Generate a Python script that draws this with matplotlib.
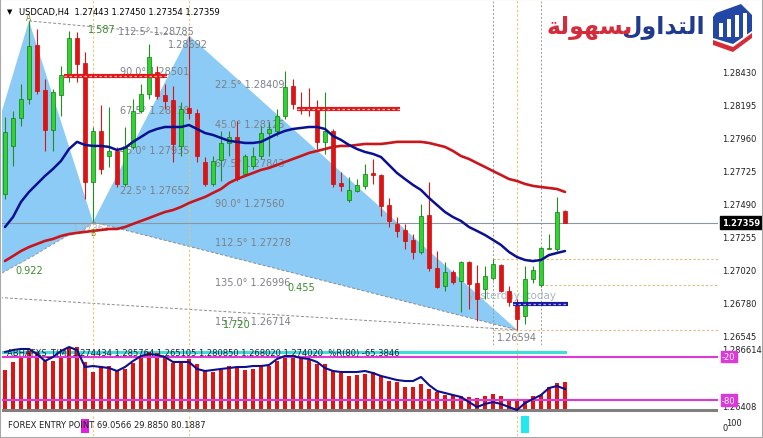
import matplotlib
matplotlib.use("Agg")
import matplotlib.pyplot as plt
import matplotlib.transforms as mtrans
from matplotlib.patches import Polygon, Rectangle
import numpy as np

# ---------------- data ----------------
header_text = "USDCAD,H4  1.27443 1.27450 1.27354 1.27359"

opens = [1.27562, 1.27905, 1.28105, 1.28240, 1.28625, 1.28304, 1.28019, 1.28268, 1.28404, 1.28675,
         1.28497, 1.27648, 1.28012, 1.27833, 1.27869, 1.27634, 1.27898, 1.28155, 1.28275, 1.28433,
         1.28268, 1.28233, 1.27905, 1.28176, 1.28140, 1.27791, 1.27634, 1.27805, 1.27926, 1.27969,
         1.27705, 1.27762, 1.27833, 1.27997, 1.28012, 1.28119, 1.28333, 1.28183, 1.28183, 1.28183,
         1.27934, 1.28012, 1.27641, 1.27520, 1.27584, 1.27620, 1.27712, 1.27698, 1.27484, 1.27349,
         1.27306, 1.27235, 1.27149, 1.27413, 1.27035, 1.26906, 1.27006, 1.26942, 1.27077, 1.26927,
         1.26885, 1.26963, 1.27056, 1.26870, 1.26792, 1.26693, 1.26956, 1.26913, 1.27170, 1.27170,
         1.27443]
highs = [1.28112, 1.28155, 1.28347, 1.28796, 1.28739, 1.28383, 1.28311, 1.28475, 1.28725, 1.28718,
         1.28576, 1.28040, 1.28197, 1.28183, 1.27898, 1.28040, 1.28240, 1.28347, 1.28632, 1.28475,
         1.28347, 1.28333, 1.28219, 1.28692, 1.28169, 1.27826, 1.27833, 1.28012, 1.28012, 1.28083,
         1.27848, 1.27898, 1.28047, 1.28076, 1.28169, 1.28440, 1.28383, 1.28290, 1.28318, 1.28233,
         1.28290, 1.28026, 1.27719, 1.27683, 1.27669, 1.27776, 1.27812, 1.27705, 1.27534, 1.27398,
         1.27349, 1.27277, 1.27491, 1.27648, 1.27156, 1.27077, 1.27020, 1.27084, 1.27084, 1.27056,
         1.27049, 1.27099, 1.27063, 1.26906, 1.26814, 1.27049, 1.27049, 1.27184, 1.27277, 1.27541,
         1.27450]
lows = [1.27527, 1.27762, 1.28047, 1.28204, 1.28275, 1.27869, 1.27869, 1.28119, 1.28361, 1.28361,
        1.27527, 1.27363, 1.27705, 1.27755, 1.27612, 1.27620, 1.27883, 1.28140, 1.28240, 1.28240,
        1.28169, 1.27791, 1.27833, 1.28097, 1.27791, 1.27620, 1.27620, 1.27655, 1.27833, 1.27655,
        1.27691, 1.27741, 1.27812, 1.27833, 1.27976, 1.28097, 1.28169, 1.28133, 1.28119, 1.27883,
        1.27848, 1.27612, 1.27584, 1.27506, 1.27577, 1.27598, 1.27634, 1.27406, 1.27327, 1.27256,
        1.27170, 1.27099, 1.27134, 1.27013, 1.26892, 1.26870, 1.26920, 1.26721, 1.26743, 1.26657,
        1.26814, 1.26949, 1.26863, 1.26764, 1.26594, 1.26636, 1.26927, 1.26899, 1.27170, 1.27156,
        1.27354]
closes = [1.28005, 1.28105, 1.28240, 1.28618, 1.28297, 1.28019, 1.28290, 1.28411, 1.28675, 1.28489,
          1.27648, 1.28012, 1.27741, 1.27869, 1.27634, 1.27898, 1.28155, 1.28275, 1.28540, 1.28261,
          1.28226, 1.27919, 1.28169, 1.28140, 1.27833, 1.27634, 1.27798, 1.27926, 1.27969, 1.27669,
          1.27833, 1.27833, 1.27997, 1.28026, 1.28119, 1.28326, 1.28204, 1.28169, 1.28162, 1.27934,
          1.28012, 1.27634, 1.27620, 1.27591, 1.27627, 1.27705, 1.27698, 1.27477, 1.27370, 1.27299,
          1.27228, 1.27149, 1.27406, 1.27035, 1.26899, 1.27006, 1.26935, 1.27077, 1.26920, 1.26814,
          1.26978, 1.27063, 1.26870, 1.26792, 1.26671, 1.26956, 1.27020, 1.27177, 1.27177, 1.27434,
          1.27359]

ma_fast = [1.27327, 1.27398, 1.27506, 1.27577, 1.27634, 1.27691, 1.27741, 1.27798, 1.27883, 1.27934,
           1.27912, 1.27905, 1.27905, 1.27898, 1.27876, 1.27891, 1.27934, 1.27969, 1.28005, 1.28026,
           1.28040, 1.28040, 1.28040, 1.28054, 1.28026, 1.27997, 1.27983, 1.27962, 1.27941, 1.27934,
           1.27926, 1.27926, 1.27934, 1.27962, 1.27990, 1.28012, 1.28026, 1.28033, 1.28040, 1.28040,
           1.28026, 1.27976, 1.27948, 1.27912, 1.27883, 1.27862, 1.27848, 1.27826, 1.27769, 1.27712,
           1.27669, 1.27627, 1.27591, 1.27534, 1.27484, 1.27434, 1.27398, 1.27370, 1.27327, 1.27299,
           1.27270, 1.27235, 1.27199, 1.27149, 1.27113, 1.27092, 1.27084, 1.27092, 1.27127, 1.27142,
           1.27156]
ma_slow = [1.27085, 1.27120, 1.27156, 1.27184, 1.27206, 1.27228, 1.27242, 1.27263, 1.27277, 1.27285,
           1.27292, 1.27299, 1.27306, 1.27313, 1.27313, 1.27327, 1.27349, 1.27370, 1.27391, 1.27413,
           1.27434, 1.27448, 1.27470, 1.27498, 1.27520, 1.27541, 1.27570, 1.27598, 1.27641, 1.27669,
           1.27691, 1.27712, 1.27734, 1.27748, 1.27769, 1.27791, 1.27812, 1.27833, 1.27855, 1.27869,
           1.27883, 1.27898, 1.27905, 1.27905, 1.27912, 1.27919, 1.27919, 1.27919, 1.27926, 1.27934,
           1.27934, 1.27934, 1.27934, 1.27926, 1.27912, 1.27898, 1.27869, 1.27833, 1.27812, 1.27783,
           1.27755, 1.27726, 1.27698, 1.27669, 1.27655, 1.27634, 1.27620, 1.27612, 1.27605, 1.27598,
           1.27577]

price_ticks = [1.28430, 1.28195, 1.27960, 1.27725, 1.27490, 1.27255, 1.27020, 1.26780, 1.26545]
last_price = 1.27359

# harmonic pattern pivots A, B, C, D (bar index, price)
pivot_idx = [3, 11, 23, 64]
pivot_px = [1.28796, 1.27363, 1.28692, 1.26594]
xa_edge_idx = -0.6
xa_edge_px = 1.28112
xb_lower_idx = [9.75, 7.75, 5.6, 3.5, -0.6]
xb_lower_px = [1.27299, 1.27263, 1.27192, 1.27120, 1.26992]
xd_idx = [-0.6, 64]
xd_px = [1.26824, 1.26594]

angle_left = ["90.0°", "67.5°", "45.0°", "22.5°"]
angle_left_px = [1.28501, 1.28218, 1.27935, 1.27652]
angle_right = ["22.5°", "45.0°", "67.5°", "90.0°", "112.5°", "135.0°", "157.5°"]
angle_right_px = [1.28409, 1.28125, 1.27843, 1.27560, 1.27278, 1.26996, 1.26714]
top_angle = "112.5°"
top_angle_px = 1.28785

ratio_labels = ["1.587", "0.922", "0.455", "1.720"]
ratio_idx = [10.4, 1.25, 35.25, 27.25]
ratio_px = [1.28739, 1.27021, 1.26899, 1.26636]

res_levels = [1.28404, 1.28169]
res_start = [7.4, 36.5]
res_end = [20.2, 49.4]
sup_level = 1.26780
sup_start, sup_end = 63.5, 70.4

day_levels = [1.27099, 1.26914, 1.26594]
day_start = [61, 67, 61]
vline_yellow = [11, 23, 64]
vline_grey = [61, 67]

osc_hist = [-38.0, -26.9, -18.6, -11.7, -13.9, -24.2, -25.5, -18.6, -8.4, -7.0,
            -26.9, -41.6, -33.3, -32.5, -39.4, -37.0, -28.7, -22.2, -13.9, -14.9,
            -18.6, -28.7, -27.8, -23.2, -30.1, -39.4, -40.8, -38.0, -32.5, -35.7,
            -38.4, -37.0, -32.5, -33.3, -25.5, -18.6, -19.4, -22.2, -24.2, -30.1,
            -30.1, -39.4, -43.0, -46.3, -44.9, -44.0, -41.6, -46.3, -53.3, -55.5,
            -62.4, -62.4, -57.8, -64.8, -69.3, -73.1, -73.1, -74.9, -76.3, -77.6,
            -74.9, -71.7, -74.0, -78.6, -79.6, -81.0, -74.9, -73.1, -62.4, -56.4, -54.6]
osc_line = [-13.5, -10.7, -9.3, -9.3, -16.3, -26.0, -20.4, -12.1, -6.6, -10.7,
            -34.3, -32.9, -34.3, -35.7, -39.8, -34.3, -26.0, -19.0, -16.3, -17.6,
            -20.4, -27.3, -27.3, -27.3, -37.0, -39.8, -38.4, -37.0, -35.7, -34.3,
            -34.3, -32.9, -32.9, -31.5, -23.2, -19.0, -19.0, -21.8, -23.2, -27.3,
            -35.7, -39.8, -41.2, -41.2, -41.2, -39.8, -42.6, -46.7, -49.5, -52.3,
            -53.7, -53.7, -48.1, -59.2, -67.5, -70.3, -73.1, -75.8, -82.8, -89.7,
            -85.5, -82.8, -85.5, -89.7, -93.9, -84.2, -78.6, -73.1, -63.4, -60.6, -64.8]
osc_levels = [-20, -80]
osc_title = "ABHAFXS_T(M) 1.274434 1.285764 1.265105 1.280850 1.268020 1.274020  %R(80) -65.3846"
osc_scale_labels = ["1.286614", "1.26408"]
osc_scale_vals = [-10.3, -89.0]

entry_title = "FOREX ENTRY POINT 69.0566 29.8850 80.1887"
sell_idx, sell_val = [10], [82]
buy_idx, buy_val = [65], [100]

# ---------------- figure ----------------
W, H, DPI = 763, 439, 100
fig = plt.figure(figsize=(W / DPI, H / DPI), dpi=DPI)
fig.patch.set_facecolor("white")


def px_axes(x0, y0, x1, y1):
    return fig.add_axes([x0 / W, 1 - y1 / H, (x1 - x0) / W, (y1 - y0) / H])


def P(x, y):
    return (x / W, 1 - y / H)


ax = px_axes(2, 2, 718, 346)
ax1 = px_axes(2, 347, 718, 414)
ax2 = px_axes(2, 415, 718, 437)
for a in (ax, ax1, ax2):
    a.set_xlim(-0.375, 89.125)
    a.set_xticks([])
    a.set_yticks([])
    for s in a.spines.values():
        s.set_visible(False)
    a.patch.set_alpha(0)
ax.set_ylim(1.26486, 1.28938)
ax1.set_ylim(-98.0, -5.17)
ax2.set_ylim(-17.6, 111.8)

FILL = "#8ccbf5"
GREY_T = "#7c8088"
GREEN_T = "#3b8c2e"
YEL = "#e8c46a"

# harmonic fills
ax.fill([xa_edge_idx, pivot_idx[0], pivot_idx[1]] + xb_lower_idx,
        [xa_edge_px, pivot_px[0], pivot_px[1]] + xb_lower_px, color=FILL, lw=0, zorder=1)
ax.fill(pivot_idx[1:], pivot_px[1:], color=FILL, lw=0, zorder=1)
dash = (0, (3, 2))
ax.plot([pivot_idx[0], pivot_idx[2]], [pivot_px[0], pivot_px[2]], color="#8a8a8a", lw=0.7, ls=dash, zorder=2)
ax.plot([pivot_idx[1], pivot_idx[3]], [pivot_px[1], pivot_px[3]], color="#8a8a8a", lw=0.7, ls=dash, zorder=2)
ax.plot([pivot_idx[1]] + xb_lower_idx, [pivot_px[1]] + xb_lower_px, color="#9a9a9a", lw=0.7, ls=dash, zorder=2)
ax.plot(xd_idx, xd_px, color="#8a8a8a", lw=0.7, ls=dash, zorder=2)

# vertical separators
for a in (ax, ax1, ax2):
    for v in vline_yellow:
        a.axvline(v, color=YEL, lw=0.8, ls=(0, (2, 2)), zorder=2)
for v in vline_grey:
    ax.axvline(v, color="#9a9a9a", lw=0.7, ls=(0, (2, 2)), zorder=2)

# day levels
for lev, st in zip(day_levels, day_start):
    ax.plot([st, 89.125], [lev, lev], color="#e0b878", lw=0.8, ls=(0, (2, 2)), zorder=2)

# current price line
ax.axhline(last_price, color="#8c96a0", lw=0.8, zorder=2)

# angle labels
def lvl_text(a, x, level, s, color=GREY_T, fs=7):
    a.annotate(s, (x, level), xytext=(0, -2.5), textcoords="offset points",
               va="top", ha="left", color=color, fontsize=fs, zorder=3, annotation_clip=False)

for deg, lev in zip(angle_left, angle_left_px):
    lvl_text(ax, 14.4, lev, f"{deg} {lev:.5f}")
for deg, lev in zip(angle_right, angle_right_px):
    lvl_text(ax, 26.3, lev, f"{deg} {lev:.5f}")
lvl_text(ax, 14.1, top_angle_px, f"{top_angle} {top_angle_px:.5f}")
ax.annotate(f"{pivot_px[2]:.5f}", (20.4, pivot_px[2]), xytext=(0, -2.5), textcoords="offset points",
            va="top", ha="left", color=GREY_T, fontsize=7, zorder=8)
ax.annotate(f"{pivot_px[3]:.5f}", (61.5, pivot_px[3]), xytext=(0, -1.5), textcoords="offset points",
            va="top", ha="left", color=GREY_T, fontsize=7, zorder=3)
for s, xi, yp in zip(ratio_labels, ratio_idx, ratio_px):
    ax.text(xi, yp, s, color=GREEN_T, fontsize=7, va="center", ha="left", zorder=8)
ax.text(8.5, 1.27320, f"{pivot_px[1]:.5f}", color="#b0b4b8", fontsize=6.5, va="center", ha="left", zorder=3)
ax.text(pivot_idx[1], 1.27285, "B", color="#8a7a10", fontsize=5.5, va="center", ha="center", zorder=8)
ax.text(pivot_idx[0], 1.28818, "A", color="#6a8a20", fontsize=5.5, va="center", ha="center", zorder=8)
ax.text(57.9, 1.26843, "yesterday  today", color="#a9b4c0", fontsize=7.5, va="center", ha="left", zorder=3)

# candles
o = np.array(opens); h = np.array(highs); l = np.array(lows); c = np.array(closes)
idx = np.arange(len(o))
up = c >= o
bot = np.minimum(o, c)
hgt = np.maximum(np.abs(c - o), 0.00007)
ax.vlines(idx[up], l[up], h[up], color="#1f8f1f", lw=0.8, zorder=4)
ax.vlines(idx[~up], l[~up], h[~up], color="#d81414", lw=0.8, zorder=4)
ax.bar(idx[up], hgt[up], bottom=bot[up], width=0.62, color="#2fd42f", edgecolor="#137a13", lw=0.5, zorder=5)
ax.bar(idx[~up], hgt[~up], bottom=bot[~up], width=0.62, color="#e01212", edgecolor="#c80e0e", lw=0.5, zorder=5)

# moving averages
ax.plot(idx, ma_slow, color="#c8161c", lw=1.9, zorder=6, solid_capstyle="round")
ax.plot(idx, ma_fast, color="#0a1090", lw=1.8, zorder=6, solid_capstyle="round")

# zone lines
for lev, s0, s1 in zip(res_levels, res_start, res_end):
    ax.plot([s0, s1], [lev, lev], color="#e01818", lw=3.0, solid_capstyle="butt", zorder=7)
    ax.plot([s0, s1], [lev, lev], color="#f8b8b8", lw=0.9, ls=(0, (2, 2)), zorder=7)
ax.plot([sup_start, sup_end], [sup_level, sup_level], color="#1a1aa0", lw=3.0, solid_capstyle="butt", zorder=7)
ax.plot([sup_start, sup_end], [sup_level, sup_level], color="#a8acff", lw=0.9, ls=(0, (2, 2)), zorder=7)

# price scale
bt = mtrans.blended_transform_factory(ax.transAxes, ax.transData)
for t in price_ticks:
    ax.text(1.0056, t, f"{t:.5f}", transform=bt, fontsize=6, va="center", ha="left", color="#202020", clip_on=False)
ax.text(1.0056, last_price, f"{last_price:.5f}", transform=bt, fontsize=6, va="center", ha="left",
        color="white", fontweight="bold", clip_on=False, zorder=9,
        bbox=dict(boxstyle="square,pad=0.25", fc="black", ec="black"))

# ---------------- oscillator window ----------------
ax1.bar(idx, np.array(osc_hist) + 96.6, bottom=-96.6, width=0.62, color="#e01212", lw=0, zorder=3)
ax1.axhline(-93.9, color="#808080", lw=2.2, zorder=4)
ax1.plot([-0.6, 70], [-13.5, -13.5], color="#40dcdc", lw=2.2, zorder=2)
for lv in osc_levels:
    ax1.axhline(lv, color="#dc3ad8", lw=1.5, zorder=5)
ax1.plot(idx, osc_line, color="#0a1090", lw=1.5, zorder=6)
ax1.text(0.3, -13.5, osc_title, fontsize=6, color="#1a1a3a", va="center", ha="left", zorder=7)
bt1 = mtrans.blended_transform_factory(ax1.transAxes, ax1.transData)
for s, v in zip(osc_scale_labels, osc_scale_vals):
    ax1.text(1.0056, v, s, transform=bt1, fontsize=6, va="center", ha="left", color="#202020", clip_on=False)
for lv in osc_levels:
    ax1.text(1.0056, lv, f"{lv}", transform=bt1, fontsize=6, va="center", ha="left", color="white",
             clip_on=False, zorder=8, bbox=dict(boxstyle="square,pad=0.15", fc="#dc3ad8", ec="#dc3ad8"))

# ---------------- entry point window ----------------
ax2.bar(sell_idx, sell_val, width=1.0, color="#e020e0", lw=0, zorder=3)
ax2.bar(buy_idx, buy_val, width=1.0, color="#22e8f0", lw=0, zorder=3)
ax2.text(0.4, 52, entry_title, fontsize=6, color="#202020", va="center", ha="left", zorder=5)
bt2 = mtrans.blended_transform_factory(ax2.transAxes, ax2.transData)
ax2.text(1.011, 64, "100", transform=bt2, fontsize=6, va="center", ha="left", color="#202020", clip_on=False)
ax2.text(1.0056, 32, "0", transform=bt2, fontsize=6, va="center", ha="left", color="#202020", clip_on=False)

# ---------------- header ----------------
fig.text(*P(7, 12), "\u25BC", fontsize=5, va="center", ha="left", color="black")
fig.text(*P(19, 12), header_text, fontsize=6, va="center", ha="left", color="black")

# ---------------- logo ----------------
blue_word = "\uFEDD\uFEED\uFE8D\uFEAA\uFE98\uFEDF\uFE8D"   # التداول
red_word = "\uFE94\uFEDF\uFEEE\uFEEC\uFEB4\uFE91"          # بسهولة
fig.text(*P(705, 27), blue_word, fontsize=17, fontweight="bold", color="#203a8f",
         va="center", ha="right", family=["DejaVu Sans"])
fig.text(*P(633, 27), red_word, fontsize=17, fontweight="bold", color="#d62b3a",
         va="center", ha="right", family=["DejaVu Sans"])
shield = [(716, 14), (741, 5), (752, 16), (752, 32), (733, 45), (713, 39), (713, 18)]
fig.add_artist(Polygon([P(*p) for p in shield], closed=True, transform=fig.transFigure,
                       fc="#2347a6", ec="none"))
for bx, top in [(719, 24), (727, 20), (735, 16), (743, 14)]:
    fig.add_artist(Rectangle(P(bx, 38), 4 / W, (38 - top) / H, transform=fig.transFigure,
                             fc="white", ec="none"))
chev = [(713, 41), (733, 48), (752, 34), (752, 39), (733, 53), (713, 46)]
fig.add_artist(Polygon([P(*p) for p in chev], closed=True, transform=fig.transFigure,
                       fc="#d62b3a", ec="none"))

# border
fig.add_artist(Rectangle((0, 0), 1, 1, transform=fig.transFigure, fill=False, ec="#a8a8a8", lw=1.5))

fig.savefig("out.png", dpi=DPI, facecolor="white")
